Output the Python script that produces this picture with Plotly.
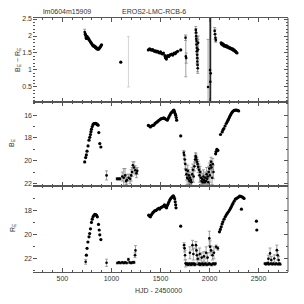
import plotly.graph_objects as go
from plotly.subplots import make_subplots

# ---------------- data ----------------
# Panel 1: colour index B_E - R_E
col_days = [733, 737, 741, 744, 748, 751, 758, 764, 771, 778, 786, 792, 799, 806, 812, 818, 824, 830,
            836, 842, 847, 853, 858, 864, 870, 876, 881, 887, 893, 899,
            1095,
            1376, 1390, 1400, 1410, 1420, 1430, 1440, 1450, 1460, 1470, 1480, 1490, 1500, 1510, 1520,
            1530, 1545, 1550, 1555, 1560, 1565, 1575, 1585, 1595, 1605, 1615, 1625, 1640, 1650, 1660, 1675,
            1706,
            2118, 2125, 2132, 2138, 2145, 2152, 2160, 2168, 2175, 2182, 2190, 2198, 2205, 2212, 2220,
            2228, 2235, 2242, 2250, 2258, 2265, 2272, 2280]
col_vals = [2.06, 2.03, 1.97, 1.93, 1.99, 1.98, 1.92, 1.94, 1.90, 1.86, 1.83, 1.80, 1.77, 1.74, 1.72, 1.70, 1.71, 1.69,
            1.66, 1.67, 1.64, 1.62, 1.63, 1.61, 1.62, 1.64, 1.66, 1.68, 1.71, 1.74,
            1.23,
            1.59, 1.62, 1.60, 1.58, 1.60, 1.57, 1.55, 1.56, 1.53, 1.55, 1.52, 1.50, 1.53, 1.49, 1.47,
            1.50, 1.42, 1.36, 1.40, 1.32, 1.38, 1.42, 1.40, 1.44, 1.45, 1.47, 1.44, 1.50, 1.48, 1.52, 1.55,
            1.59,
            1.80, 1.76, 1.78, 1.73, 1.75, 1.70, 1.72, 1.69, 1.71, 1.67, 1.68, 1.65, 1.66, 1.63, 1.64,
            1.61, 1.62, 1.58, 1.59, 1.56, 1.55, 1.52, 1.50]
col_err_days = [727, 1755, 1758, 1762,
                1860, 1862, 1864, 1865, 1867, 1868, 1870, 1871, 1873, 1875, 1876, 1878, 1880, 1882, 1884,
                1985, 2052, 2056, 2060, 2064]
col_err_vals = [2.12, 1.95, 1.40, 1.35,
                2.18, 2.10, 2.00, 1.92, 1.85, 1.75, 1.65, 1.55, 1.45, 1.35, 1.25, 1.15, 1.05, 1.60, 1.80,
                0.50, 2.15, 2.05, 1.95, 1.88]
col_err = [0.08, 0.08, 0.60, 0.15,
           0.10, 0.12, 0.10, 0.15, 0.12, 0.20, 0.15, 0.20, 0.25, 0.20, 0.20, 0.20, 0.15, 0.30, 0.20,
           1.40, 0.10, 0.15, 0.12, 0.06]
col_big_days = [2005, 2008, 2012]
col_big_vals = [1.00, 0.65, 0.90]
col_big_err = [3.00, 3.00, 3.00]
col_cap_days = [1173]
col_cap_vals = [1.24]
col_cap_err = [0.74]

# Panel 2: B_E magnitude
b_days = [727, 737, 744, 751, 761, 771, 779, 786, 791, 796, 804, 812, 818, 824, 830, 836, 842, 847, 853, 858,
          864, 871, 881, 892,
          1376, 1386, 1397, 1408, 1420, 1431, 1443, 1455, 1466, 1477, 1489, 1500, 1511, 1522, 1534, 1545,
          1557, 1569, 1578, 1586, 1595, 1604, 1613, 1621, 1629, 1637, 1643, 1649, 1655, 1660, 1665,
          1706,
          2062, 2067, 2075, 2085,
          2112, 2129, 2137, 2146, 2158, 2170, 2180, 2188, 2196, 2204, 2213, 2222, 2230, 2239, 2250,
          2262, 2273, 2285, 2297]
b_vals = [20.11, 19.73, 19.50, 19.17, 18.70, 18.20, 17.95, 17.70, 17.45, 17.23, 17.00, 16.82, 16.76, 16.74,
          16.73, 16.72, 16.74, 16.76, 16.80, 16.84, 16.88, 17.53, 18.50, 18.80,
          16.90, 16.95, 17.03, 16.95, 16.90, 16.88, 16.75, 16.65, 16.59, 16.50, 16.42, 16.35, 16.30, 16.28,
          16.24, 16.30, 16.38, 16.44, 16.30, 16.15, 16.00, 15.85, 15.75, 15.71, 15.60, 15.56, 15.70, 15.85,
          16.00, 16.20, 16.44,
          17.82,
          19.40, 19.20, 19.00, 19.10,
          17.70, 17.47, 17.30, 17.17, 16.95, 16.73, 16.58, 16.44, 16.30, 16.15, 16.00, 15.85, 15.75, 15.65,
          15.58, 15.55, 15.56, 15.58, 15.62]
b_err_days = [950,
              1057, 1067, 1078, 1088, 1110, 1125, 1139, 1150, 1157, 1175, 1190, 1201, 1210, 1218, 1230,
              1242, 1255, 1263,
              1737, 1742, 1747, 1752, 1758, 1765, 1771, 1778, 1784, 1789, 1795, 1802, 1809, 1816, 1823,
              1830, 1838, 1846, 1852, 1858, 1861, 1866, 1872, 1878, 1885, 1892, 1898, 1905, 1912, 1918,
              1925, 1932, 1938, 1943, 1950, 1957, 1963, 1970, 1976, 1981, 1987, 1992, 1998, 2004, 2010,
              2015, 2020, 2026, 2033, 2040]
b_err_vals = [21.30,
              21.60, 21.60, 21.60, 21.60, 21.40, 21.50, 21.30, 21.80, 21.70, 21.50, 21.60, 21.30, 21.00,
              20.40, 20.60, 20.85, 21.10, 20.90,
              19.30, 19.50, 19.90, 20.30, 20.80, 21.20, 21.50, 20.90, 21.60, 21.30, 21.80, 21.50, 21.70,
              21.90, 21.20, 20.80, 21.40, 20.50, 19.90, 19.60, 19.70, 19.90, 20.10, 20.30, 20.55, 20.80,
              21.30, 21.00, 21.50, 21.80, 21.60, 21.90, 21.40, 21.70, 21.90, 21.50, 21.80, 21.20, 21.60,
              21.40, 21.90, 21.00, 20.70, 21.30, 20.40, 20.10, 20.60, 21.50, 20.30, 21.00]
b_err = [0.40,
         0.10, 0.10, 0.10, 0.10, 0.40, 0.80, 0.60, 0.30, 0.50, 0.30, 0.40, 0.50, 0.40, 0.30, 0.50, 0.40,
         0.40, 0.30,
         0.20, 0.30, 0.30, 0.40, 0.50, 0.50, 0.60, 0.50, 0.60, 0.50, 0.40, 0.50, 0.40, 0.30, 0.60, 0.50,
         0.50, 0.40, 0.30, 0.30, 0.30, 0.30, 0.40, 0.40, 0.50, 0.50, 0.60, 0.50, 0.60, 0.40, 0.50, 0.30,
         0.60, 0.50, 0.40, 0.50, 0.40, 0.60, 0.50, 0.50, 0.40, 0.50, 0.50, 0.60, 0.40, 0.40, 0.50, 0.60,
         0.50, 0.60]

# Panel 3: R_E magnitude
r_days = [744, 751, 760, 771, 778, 786, 796, 804, 812, 821, 830, 838, 847, 856, 868, 875, 881, 892,
          1380, 1390, 1397, 1406, 1414, 1422, 1431, 1440, 1450, 1459, 1470, 1482, 1492, 1500, 1509, 1518,
          1530, 1541, 1548, 1555, 1562, 1570, 1578, 1586, 1594, 1602, 1610, 1618, 1625, 1631, 1638, 1645,
          1650, 1655, 1658,
          1706,
          2101, 2110, 2119, 2128, 2136, 2148, 2160, 2170, 2180, 2192, 2204, 2213, 2222, 2230, 2239, 2251,
          2263, 2273, 2284, 2296, 2307, 2319, 2331, 2342, 2352,
          2325, 2478, 2482]
r_vals = [21.70, 21.13, 20.60, 20.17, 19.90, 19.50, 18.97, 18.70, 18.50, 18.38, 18.30, 18.32, 18.36, 18.50,
          19.13, 19.60, 20.00, 20.40,
          18.36, 18.45, 18.50, 18.35, 18.25, 18.15, 18.08, 18.00, 17.98, 17.94, 17.85, 17.80, 17.85, 17.75,
          17.70, 17.67, 17.60, 17.50, 17.60, 17.70, 17.75, 17.55, 17.40, 17.25, 17.10, 17.00, 16.92, 16.85,
          16.80, 16.75, 16.85, 17.00, 17.25, 17.50, 17.75,
          19.28,
          19.75, 19.55, 19.33, 19.10, 18.92, 18.70, 18.50, 18.35, 18.22, 18.08, 17.94, 17.80, 17.67, 17.52,
          17.38, 17.20, 17.03, 16.98, 16.92, 16.85, 16.78, 16.80, 16.83, 16.90, 16.97,
          17.86, 18.86, 19.60]
r_err_days = [737, 950,
              1060, 1075, 1090, 1110, 1125, 1140, 1155, 1173, 1185, 1200, 1215, 1230, 1240, 1245,
              1740, 1745, 1750, 1756, 1764, 1772, 1780, 1788, 1796, 1800, 1804, 1812, 1820, 1826, 1830,
              1835, 1840, 1848, 1856, 1861, 1866, 1872, 1880, 1888, 1896, 1900, 1904, 1912, 1920, 1928,
              1936, 1943, 1950, 1958, 1965, 1972, 1980, 1988, 1996, 1998, 2005, 2010, 2015, 2022, 2030,
              2038, 2045, 2052, 2060, 2067, 2085,
              2565, 2575, 2585, 2595, 2600, 2605, 2617, 2625, 2630, 2640, 2650, 2660, 2670, 2680, 2686,
              2695, 2700, 2705, 2712, 2720]
r_err_vals = [22.25, 22.33,
              22.35, 22.30, 22.35, 22.30, 22.35, 22.30, 22.35, 22.05, 22.30, 22.35, 22.30, 22.30, 21.70,
              21.30,
              20.86, 21.13, 21.70, 22.38, 22.45, 22.40, 22.50, 22.45, 22.40, 21.50, 22.45, 22.50, 22.40,
              20.86, 22.45, 21.60, 22.40, 22.50, 22.45, 20.86, 21.30, 21.70, 22.00, 22.45, 22.40, 21.60,
              22.50, 22.45, 21.90, 22.40, 22.50, 21.80, 22.45, 22.40, 21.50, 22.50, 21.90, 22.45, 22.40,
              20.30, 21.00, 22.45, 21.30, 22.50, 21.70, 22.40, 21.50, 22.45, 22.40, 21.00, 21.13,
              22.40, 22.45, 22.40, 22.35, 22.00, 22.45, 21.55, 22.40, 22.10, 22.45, 22.40, 21.97, 22.45,
              22.40, 21.28, 21.70, 22.45, 22.10, 22.40, 22.45]
r_err = [0.20, 0.30,
         0.08, 0.08, 0.08, 0.08, 0.08, 0.08, 0.08, 0.10, 0.08, 0.08, 0.08, 0.10, 0.20, 0.40,
         0.20, 0.30, 0.40, 0.30, 0.10, 0.10, 0.10, 0.10, 0.10, 0.50, 0.10, 0.10, 0.10, 0.40, 0.10,
         0.50, 0.10, 0.10, 0.10, 0.30, 0.40, 0.40, 0.30, 0.10, 0.10, 0.50, 0.10, 0.10, 0.40, 0.10,
         0.10, 0.40, 0.10, 0.10, 0.50, 0.10, 0.40, 0.10, 0.10, 0.60, 0.50, 0.10, 0.40, 0.10, 0.40,
         0.10, 0.50, 0.10, 0.10, 0.15, 0.15,
         0.08, 0.08, 0.08, 0.08, 0.30, 0.08, 0.45, 0.08, 0.30, 0.08, 0.08, 0.30, 0.08, 0.08, 0.42,
         0.40, 0.08, 0.30, 0.08, 0.08]

x_range = [200, 2800]
y_ranges = [[0.07, 2.53], [22.2, 14.8], [23.1, 15.9]]
y_tickvals = [[0.5, 1, 1.5, 2, 2.5], [16, 18, 20, 22], [18, 20, 22]]
y_titles = ["B<sub>E</sub> − R<sub>E</sub>", "B<sub>E</sub>", "R<sub>E</sub>"]
field_name = "lm0604m15909"
star_name = "EROS2-LMC-RCB-6"
x_title = "HJD - 2450000"

# ---------------- figure ----------------
fig = make_subplots(rows=3, cols=1, shared_xaxes=True, vertical_spacing=0)

ERRC = "#8a8a8a"


def pts(x, y, row, size=3.2):
    fig.add_trace(go.Scatter(x=x, y=y, mode="markers",
                             marker=dict(color="black", size=size, line=dict(width=0)),
                             showlegend=False, hoverinfo="skip"), row=row, col=1)


def errs(x, y, e, row, size=2.6, color=ERRC, thick=0.8):
    fig.add_trace(go.Scatter(x=x, y=y, mode="markers",
                             marker=dict(color="black", size=size, line=dict(width=0)),
                             error_y=dict(type="data", array=e, visible=True, color=color,
                                          thickness=thick, width=1.5),
                             showlegend=False, hoverinfo="skip"), row=row, col=1)


errs(col_err_days, col_err_vals, col_err, 1)
errs(col_big_days, col_big_vals, col_big_err, 1, color="#222222", thick=1)
errs(col_cap_days, col_cap_vals, col_cap_err, 1, size=0.1, color="#c8c8c8")
pts(col_days, col_vals, 1)
errs(b_err_days, b_err_vals, b_err, 2)
pts(b_days, b_vals, 2)
errs(r_err_days, r_err_vals, r_err, 3)
pts(r_days, r_vals, 3)

AX = "#555555"
TF = dict(family="Liberation Sans, Arial, sans-serif", size=7, color="#333333")

domains = [[0.671, 1.0], [0.34, 0.671], [0.0, 0.34]]
minor_y = [0.1, 1, 1]

for i in range(3):
    r = i + 1
    fig.update_xaxes(range=x_range, showline=True, linecolor=AX, linewidth=1, mirror="allticks",
                     ticks="inside", ticklen=4, tickcolor=AX, tickwidth=1, dtick=500, tick0=0,
                     minor=dict(dtick=100, tick0=0, ticks="inside", ticklen=2, tickcolor=AX, tickwidth=1),
                     showgrid=False, zeroline=False, tickfont=TF, automargin=False,
                     showticklabels=(r == 3), row=r, col=1)
    fig.update_yaxes(range=y_ranges[i], domain=domains[i], showline=False, mirror="ticks",
                     ticks="inside", ticklen=4, tickcolor=AX, tickwidth=1,
                     tickmode="array", tickvals=y_tickvals[i],
                     minor=dict(dtick=minor_y[i], tick0=0, ticks="inside", ticklen=2, tickcolor=AX, tickwidth=1),
                     showgrid=False, zeroline=False, tickfont=TF, automargin=False, row=r, col=1)

# page offset of the default body margin
OFF = 8
W, H = 304, 304
L, T = 33 - OFF, 18 - OFF
R = W - (288 - OFF)
B = H - (272 - OFF)
pw, ph = W - L - R, H - T - B


def px(xs):
    return (xs - OFF - L) / pw


def py(ys):
    return (H - B - (ys - OFF)) / ph


annots = [
    dict(text=field_name, x=px(67), y=py(11)),
    dict(text=star_name, x=px(154), y=py(11)),
    dict(text=x_title, x=px(158), y=py(290)),
    dict(text=y_titles[0], x=px(18), y=py(60), textangle=-90),
    dict(text=y_titles[1], x=px(12), y=py(143), textangle=-90),
    dict(text=y_titles[2], x=px(13), y=py(228), textangle=-90),
]
for a in annots:
    fig.add_annotation(xref="paper", yref="paper", showarrow=False, xanchor="center", yanchor="middle",
                       font=TF, **a)

# right border line
fig.add_shape(type="line", xref="paper", yref="paper", x0=1, x1=1, y0=0, y1=1,
              line=dict(color=AX, width=1))

fig.update_layout(width=W, height=H, margin=dict(l=L, r=R, t=T, b=B, autoexpand=False),
                  paper_bgcolor="white", plot_bgcolor="white", showlegend=False)

fig.write_html("out.html")
